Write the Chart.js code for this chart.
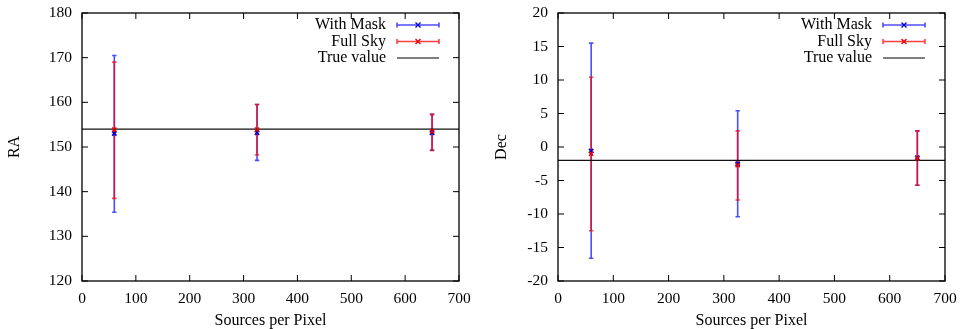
<!DOCTYPE html>
<html>
<head>
<meta charset="utf-8">
<script src="https://cdn.jsdelivr.net/npm/chart.js@4.4.0/dist/chart.umd.min.js"></script>
<style>
  html, body { margin: 0; padding: 0; background: #fff; }
  #wrap { display: flex; width: 961px; height: 329px; }
  canvas { display: block; }
</style>
</head>
<body>
<div id="wrap">
  <canvas id="raChart" width="480" height="329"></canvas>
  <canvas id="decChart" width="481" height="329"></canvas>
</div>
<script>
// sources per pixel for each run
const sources = [60, 325, 650];

// RA estimates with error ranges
const raMask = [153.0, 153.2, 153.2];
const raMaskLo = [135.4, 147.0, 149.3];
const raMaskHi = [170.5, 159.5, 157.3];
const raFull = [153.9, 153.9, 153.5];
const raFullLo = [138.5, 148.2, 149.2];
const raFullHi = [169.0, 159.5, 157.3];
const raTrue = 154;

// Dec estimates with error ranges
const decMask = [-0.6, -2.5, -1.6];
const decMaskLo = [-16.6, -10.4, -5.7];
const decMaskHi = [15.5, 5.4, 2.4];
const decFull = [-1.0, -2.7, -1.7];
const decFullLo = [-12.5, -7.9, -5.7];
const decFullHi = [10.4, 2.4, 2.4];
const decTrue = -2;

const xRange = [0, 700];
const seriesLabels = ['With Mask', 'Full Sky', 'True value'];

const FONT = 'Liberation Serif, Times New Roman, serif';
const BLUE = 'rgba(0,0,255,0.7)';
const RED = 'rgba(255,0,0,0.75)';

function points(ys) {
    return sources.map((x, i) => ({ x: x, y: ys[i] }));
}

function drawCross(ctx, x, y, r, color) {
    ctx.save();
    ctx.strokeStyle = color;
    ctx.lineWidth = 1.3;
    ctx.beginPath();
    ctx.moveTo(x - r, y - r); ctx.lineTo(x + r, y + r);
    ctx.moveTo(x - r, y + r); ctx.lineTo(x + r, y - r);
    ctx.stroke();
    ctx.restore();
}

// vertical error bars with small caps, drawn under the markers
const errorBars = {
    id: 'errorBars',
    beforeDatasetsDraw(chart) {
        const ctx = chart.ctx;
        const yScale = chart.scales.y;
        chart.data.datasets.forEach((ds, di) => {
            if (!ds.errLo) return;
            const meta = chart.getDatasetMeta(di);
            ctx.save();
            ctx.strokeStyle = ds.barColor;
            ctx.lineWidth = 1.6;
            meta.data.forEach((pt, j) => {
                const x = pt.x;
                const y0 = yScale.getPixelForValue(ds.errLo[j]);
                const y1 = yScale.getPixelForValue(ds.errHi[j]);
                ctx.beginPath();
                ctx.moveTo(x, y0); ctx.lineTo(x, y1);
                ctx.moveTo(x - 2.2, y0); ctx.lineTo(x + 2.2, y0);
                ctx.moveTo(x - 2.2, y1); ctx.lineTo(x + 2.2, y1);
                ctx.stroke();
            });
            ctx.restore();
        });
    }
};

// plot frame, inward ticks on all sides, and the key in the top right corner
const frame = {
    id: 'frame',
    afterDraw(chart) {
        const ctx = chart.ctx;
        const a = chart.chartArea;
        const xs = chart.scales.x, ys = chart.scales.y;
        const tl = 6;
        ctx.save();
        ctx.strokeStyle = '#000';
        ctx.lineWidth = 1.3;
        ctx.strokeRect(a.left, a.top, a.right - a.left, a.bottom - a.top);
        ctx.lineWidth = 1;
        ctx.beginPath();
        xs.ticks.forEach(t => {
            const px = xs.getPixelForValue(t.value);
            ctx.moveTo(px, a.bottom); ctx.lineTo(px, a.bottom - tl);
            ctx.moveTo(px, a.top); ctx.lineTo(px, a.top + tl);
        });
        ys.ticks.forEach(t => {
            const py = ys.getPixelForValue(t.value);
            ctx.moveTo(a.left, py); ctx.lineTo(a.left + tl, py);
            ctx.moveTo(a.right, py); ctx.lineTo(a.right - tl, py);
        });
        ctx.stroke();

        // key
        ctx.font = '16px ' + FONT;
        ctx.fillStyle = '#000';
        ctx.textAlign = 'right';
        ctx.textBaseline = 'middle';
        const textX = a.right - 73, s0 = a.right - 62, s1 = a.right - 20;
        chart.data.datasets.forEach((ds, i) => {
            const y = a.top + 12 + 16.5 * i;
            ctx.fillText(ds.label, textX, y);
            ctx.strokeStyle = ds.barColor || '#000';
            ctx.lineWidth = ds.errLo ? 1.6 : 1;
            ctx.beginPath();
            ctx.moveTo(s0, y); ctx.lineTo(s1, y);
            if (ds.errLo) {
                ctx.moveTo(s0, y - 2.5); ctx.lineTo(s0, y + 2.5);
                ctx.moveTo(s1, y - 2.5); ctx.lineTo(s1, y + 2.5);
            }
            ctx.stroke();
            if (ds.errLo) drawCross(ctx, (s0 + s1) / 2, y, 2.5, ds.pointBorderColor);
        });
        ctx.restore();
    }
};

function makeChart(id, yTitle, yMin, yMax, yStep, yWidth, titlePad, rightPad,
                   mask, maskLo, maskHi, full, fullLo, fullHi, truth) {
    const ctx = document.getElementById(id).getContext('2d');
    return new Chart(ctx, {
        type: 'scatter',
        data: {
            datasets: [
                {
                    label: seriesLabels[0],
                    data: points(mask),
                    errLo: maskLo, errHi: maskHi,
                    barColor: BLUE,
                    pointStyle: 'crossRot', pointRadius: 3, pointBorderWidth: 1.8,
                    pointBorderColor: 'rgb(0,0,210)', pointBackgroundColor: 'rgb(0,0,210)',
                    order: 2
                },
                {
                    label: seriesLabels[1],
                    data: points(full),
                    errLo: fullLo, errHi: fullHi,
                    barColor: RED,
                    pointStyle: 'crossRot', pointRadius: 3, pointBorderWidth: 1.5,
                    pointBorderColor: 'rgb(235,0,0)', pointBackgroundColor: 'rgb(235,0,0)',
                    order: 1
                },
                {
                    label: seriesLabels[2],
                    type: 'line',
                    data: xRange.map(x => ({ x: x, y: truth })),
                    borderColor: '#111', borderWidth: 1.2,
                    pointRadius: 0, fill: false,
                    order: 3
                }
            ]
        },
        options: {
            responsive: false,
            animation: false,
            layout: { padding: { top: 13, right: rightPad, left: 0, bottom: 0 } },
            plugins: { legend: { display: false }, tooltip: { enabled: false } },
            scales: {
                x: {
                    type: 'linear', min: xRange[0], max: xRange[1],
                    afterFit: s => { s.height = 48; s.paddingLeft = 0; s.paddingRight = 0; },
                    grid: { display: false, drawTicks: false },
                    border: { display: false },
                    ticks: { stepSize: 100, color: '#000', padding: 9, font: { family: FONT, size: 15.5 } },
                    title: {
                        display: true, text: 'Sources per Pixel', color: '#000',
                        padding: { top: 0, bottom: 0 },
                        font: { family: FONT, size: 16, lineHeight: 1 }
                    }
                },
                y: {
                    type: 'linear', min: yMin, max: yMax,
                    afterFit: s => { s.width = yWidth; s.paddingTop = 0; s.paddingBottom = 0; },
                    grid: { display: false, drawTicks: false },
                    border: { display: false },
                    ticks: { stepSize: yStep, color: '#000', padding: 10, font: { family: FONT, size: 15.5 } },
                    title: {
                        display: true, text: yTitle, color: '#000',
                        padding: { top: titlePad, bottom: 0 },
                        font: { family: FONT, size: 16, lineHeight: 1 }
                    }
                }
            }
        },
        plugins: [errorBars, frame]
    });
}

document.addEventListener('DOMContentLoaded', () => {
    makeChart('raChart', 'RA', 120, 180, 10, 82, 7, 21,
              raMask, raMaskLo, raMaskHi, raFull, raFullLo, raFullHi, raTrue);
    makeChart('decChart', 'Dec', -20, 20, 5, 78, 13.5, 16,
              decMask, decMaskLo, decMaskHi, decFull, decFullLo, decFullHi, decTrue);
});
</script>
</body>
</html>
